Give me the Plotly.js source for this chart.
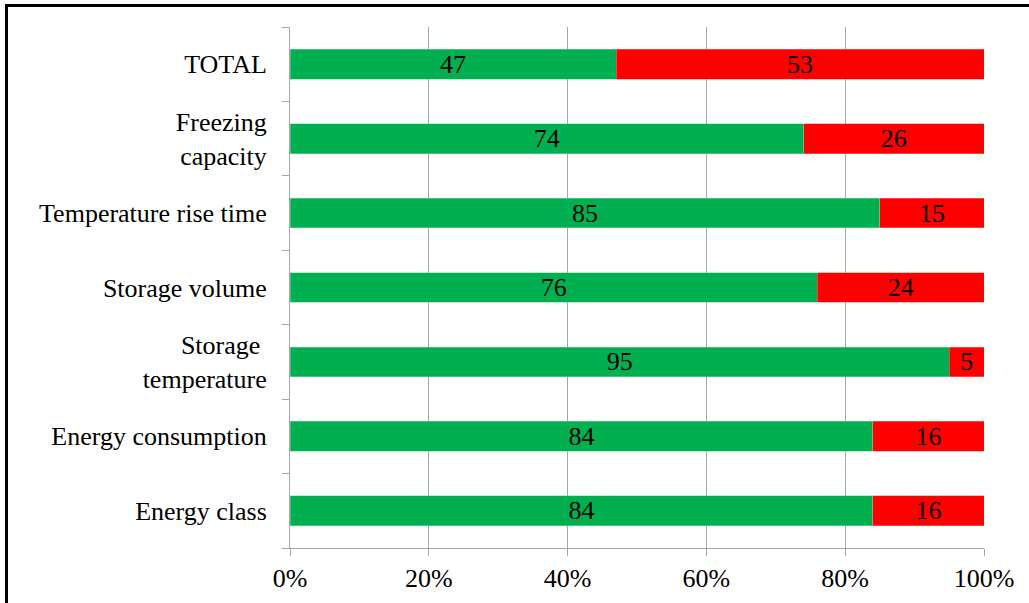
<!DOCTYPE html>
<html>
<head>
<meta charset="utf-8">
<script src="https://cdn.plot.ly/plotly-3.0.1.min.js"></script>
<style>html,body{margin:0;padding:0;background:#fff;}#chart{width:1029px;height:603px;}</style>
</head>
<body>
<div id="chart"></div>
<script>
const categories = ["Energy class", "Energy consumption", "Storage <br>temperature", "Storage volume", "Temperature rise time", "Freezing<br>capacity", "TOTAL"];
const greenValues = [84, 84, 95, 76, 85, 74, 47];
const redValues = [16, 16, 5, 24, 15, 26, 53];
const xTickVals = [0, 20, 40, 60, 80, 100];
const xTickText = ["0%", "20%", "40%", "60%", "80%", "100%"];

const font = {family: "Liberation Serif", size: 26, color: "#000"};

const traces = [
  {type: "bar", orientation: "h", y: categories, x: greenValues, text: greenValues.map(String),
   marker: {color: "#00B050", line: {color: "#7fd8a8", width: 0.5}}, textposition: "inside", insidetextanchor: "middle",
   textangle: 0, textfont: font, constraintext: "none", hoverinfo: "none", name: "Yes"},
  {type: "bar", orientation: "h", y: categories, x: redValues, text: redValues.map(String),
   marker: {color: "#FF0000", line: {color: "#ff8080", width: 0.5}}, textposition: "inside", insidetextanchor: "middle",
   textangle: 0, textfont: font, constraintext: "none", hoverinfo: "none", name: "No"}
];

const layout = {
  width: 1029, height: 603,
  margin: {l: 290, r: 45, t: 27, b: 55, pad: 0},
  barmode: "stack", bargap: 0.6, showlegend: false,
  uniformtext: {mode: false},
  paper_bgcolor: "#fff", plot_bgcolor: "#fff",
  font: font,
  xaxis: {range: [0, 100], tickvals: xTickVals, ticktext: xTickText, showgrid: true, gridcolor: "#a6a6a6", gridwidth: 1,
          zeroline: false, showline: true, linecolor: "#a6a6a6", linewidth: 1, ticks: "outside", ticklen: 7, tickcolor: "#a6a6a6",
          tickfont: font, fixedrange: true},
  yaxis: {type: "category", showgrid: false, zeroline: false, showline: true, linecolor: "#a6a6a6", linewidth: 1,
          ticks: "outside", tickson: "boundaries", ticklen: 7, tickcolor: "#a6a6a6", tickfont: font, ticklabelstandoff: 17,
          fixedrange: true},
  shapes: [
    {type: "rect", xref: "paper", yref: "paper", x0: -0.4085, x1: 1.3, y0: -0.4, y1: 1.0413,
     line: {color: "#000", width: 3}, fillcolor: "rgba(0,0,0,0)", layer: "above"}
  ]
};

Plotly.newPlot("chart", traces, layout, {displayModeBar: false, staticPlot: true});
</script>
</body>
</html>
